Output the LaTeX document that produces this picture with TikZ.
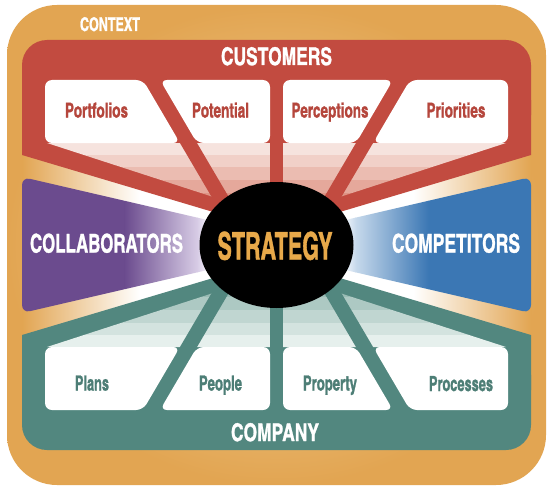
\documentclass[tikz,border=0pt]{standalone}
\usepackage{fontspec}
\usepackage{graphicx}
\newfontfamily\cnb[FakeBold=1.2]{texgyreheroscn-bold.otf}
\definecolor{ctxD}{HTML}{E2A552}
\definecolor{ctxL}{HTML}{F3D6A0}
\definecolor{redc}{HTML}{C24B40}
\definecolor{tealc}{HTML}{52877F}
\definecolor{pk1}{HTML}{F6E3DE}
\definecolor{pk2}{HTML}{F1D0C8}
\definecolor{pk3}{HTML}{EBBCB1}
\definecolor{pk4}{HTML}{E5A89B}
\definecolor{pk5}{HTML}{DE9485}
\definecolor{pk6}{HTML}{D78171}
\definecolor{tl1}{HTML}{E6F0ED}
\definecolor{tl2}{HTML}{D3E3DF}
\definecolor{tl3}{HTML}{C0D6D1}
\definecolor{tl4}{HTML}{ADC9C3}
\definecolor{tl5}{HTML}{9ABCB5}
\definecolor{tl6}{HTML}{88AFA8}
\definecolor{purD}{HTML}{6B4B8E}
\definecolor{purL}{HTML}{D8CDE6}
\definecolor{bluD}{HTML}{3B77B4}
\definecolor{bluL}{HTML}{C8DAEC}
\definecolor{redtxt}{HTML}{B5463C}
\definecolor{tealtxt}{HTML}{4D7E76}
\definecolor{gold}{HTML}{E8A94A}
% width, height (above baseline), text
\newcommand{\fitw}[3]{\resizebox{#1pt}{#2pt}{\fontsize{20pt}{20pt}\cnb #3}}
\tikzset{
  lbl/.style={inner sep=0pt, outer sep=0pt, anchor=base},
  boxw/.style={fill=white, rounded corners=7pt},
  redspoke/.style={draw=redc, line width=#1},
  tealspoke/.style={draw=tealc, line width=#1},
}
\begin{document}
\begin{tikzpicture}[x=1pt,y=-1pt]
\useasboundingbox (0,0) rectangle (553,492);
\fill[white] (0,0) rectangle (553,492);
% context frame
\shade[inner color=ctxL, outer color=ctxD, rounded corners=50pt] (7,5) rectangle (546,485);
% left wedge
\begin{scope}
\clip (22,148) -- (250,212) -- (250,278) -- (22,342) -- cycle;
\shade[left color=ctxD, right color=white] (22,140) rectangle (140,350);
\fill[white] (139.5,140) rectangle (255,350);
\end{scope}
% right wedge
\begin{scope}
\clip (531,148) -- (303,212) -- (303,278) -- (531,342) -- cycle;
\shade[left color=white, right color=ctxD] (413,140) rectangle (531,350);
\fill[white] (298,140) rectangle (413.5,350);
\end{scope}
% customers frame
\fill[redc, rounded corners=25pt] (22,40) rectangle (531,140);
\fill[redc] (22,100) -- (22,155) -- (230,217) -- (323,217) -- (531,155) -- (531,100) -- cycle;
% company frame
\fill[tealc, rounded corners=25pt] (22,350) rectangle (531,450);
\fill[tealc] (22,390) -- (22,335) -- (230,273) -- (323,273) -- (531,335) -- (531,390) -- cycle;
% pink stripes
\begin{scope}
\clip (47,143) -- (240,205.7) -- (313,205.7) -- (506,143) -- cycle;
\fill[pk1] (40,140) rectangle (515,155);
\fill[pk2] (40,155) rectangle (515,167);
\fill[pk3] (40,167) rectangle (515,180);
\fill[pk4] (40,180) rectangle (515,193);
\fill[pk5] (40,193) rectangle (515,206);
\fill[pk6] (40,206) rectangle (515,260);
\end{scope}
% teal stripes
\begin{scope}
\clip (47,347) -- (240,284.3) -- (313,284.3) -- (506,347) -- cycle;
\fill[tl1] (40,350) rectangle (515,335);
\fill[tl2] (40,335) rectangle (515,323);
\fill[tl3] (40,323) rectangle (515,310);
\fill[tl4] (40,310) rectangle (515,297);
\fill[tl5] (40,297) rectangle (515,284);
\fill[tl6] (40,284) rectangle (515,230);
\end{scope}
% spokes
\draw[redspoke=14.7pt] (145.6,70) -- (234.9,222);
\draw[redspoke=13pt] (276.5,70) -- (276.5,205);
\draw[redspoke=14.7pt] (407.4,70) -- (318.1,222);
\draw[tealspoke=14.7pt] (145.6,420) -- (234.9,268);
\draw[tealspoke=13pt] (276.5,420) -- (276.5,285);
\draw[tealspoke=14.7pt] (407.4,420) -- (318.1,268);
% customer boxes
\fill[boxw] (45,80) -- (143,80) -- (180,143) -- (45,143) -- cycle;
\fill[boxw] (160,80) -- (270,80) -- (270,143) -- (197,143) -- cycle;
\fill[boxw] (283,80) -- (393,80) -- (356,143) -- (283,143) -- cycle;
\fill[boxw] (410,80) -- (508,80) -- (508,143) -- (373,143) -- cycle;
% company boxes
\fill[boxw] (45,410) -- (143,410) -- (180,347) -- (45,347) -- cycle;
\fill[boxw] (160,410) -- (270,410) -- (270,347) -- (197,347) -- cycle;
\fill[boxw] (283,410) -- (393,410) -- (356,347) -- (283,347) -- cycle;
\fill[boxw] (410,410) -- (508,410) -- (508,347) -- (373,347) -- cycle;
% collaborators
\begin{scope}
\clip[rounded corners=8pt] (22,177) -- (242,228) -- (242,262) -- (22,313) -- cycle;
\fill[purD] (15,170) rectangle (125,320);
\shade[left color=purD, right color=purL] (124.5,170) rectangle (198,320);
\shade[left color=purL, right color=white] (197.5,170) rectangle (212,320);
\fill[white] (211.5,170) rectangle (245,320);
\end{scope}
% competitors
\begin{scope}
\clip[rounded corners=8pt] (531,177) -- (311,228) -- (311,262) -- (531,313) -- cycle;
\fill[bluD] (428,170) rectangle (538,320);
\shade[left color=bluL, right color=bluD] (355,170) rectangle (428.5,320);
\shade[left color=white, right color=bluL] (341,170) rectangle (355.5,320);
\fill[white] (308,170) rectangle (341.5,320);
\end{scope}
% strategy
\fill[black] (276.5,245) ellipse [x radius=77pt, y radius=63pt];
% texts
\node[lbl, text=white] (ctx) at (110,31) {\fitw{60}{14}{CONTEXT}};
\node[lbl, text=white] (cus) at (276.5,65) {\fitw{111}{18}{CUSTOMERS}};
\node[lbl, text=redtxt] (c1) at (96.5,117.5) {\fitw{63}{15}{Portfolios}};
\node[lbl, text=redtxt] (c2) at (220.5,117.5) {\fitw{57}{15}{Potential}};
\node[lbl, text=redtxt] (c3) at (330,117.5) {\fitw{77}{15}{Perceptions}};
\node[lbl, text=redtxt] (c4) at (456,117.5) {\fitw{59}{15}{Priorities}};
\node[lbl, text=white] (col) at (106.5,252.5) {\fitw{153}{19}{COLLABORATORS}};
\node[lbl, text=white] (cmp) at (456,252.5) {\fitw{128}{19}{COMPETITORS}};
\node[lbl, text=gold] (str) at (275,259.5) {\fitw{115}{28}{STRATEGY}};
\node[lbl, text=tealtxt] (p1) at (92,390.5) {\fitw{34}{15}{Plans}};
\node[lbl, text=tealtxt] (p2) at (220.5,390.5) {\fitw{43}{15}{People}};
\node[lbl, text=tealtxt] (p3) at (330,390.5) {\fitw{54}{15}{Property}};
\node[lbl, text=tealtxt] (p4) at (461,391) {\fitw{64}{15}{Processes}};
\node[lbl, text=white] (com) at (275,441) {\fitw{88}{18}{COMPANY}};
\end{tikzpicture}
\end{document}
